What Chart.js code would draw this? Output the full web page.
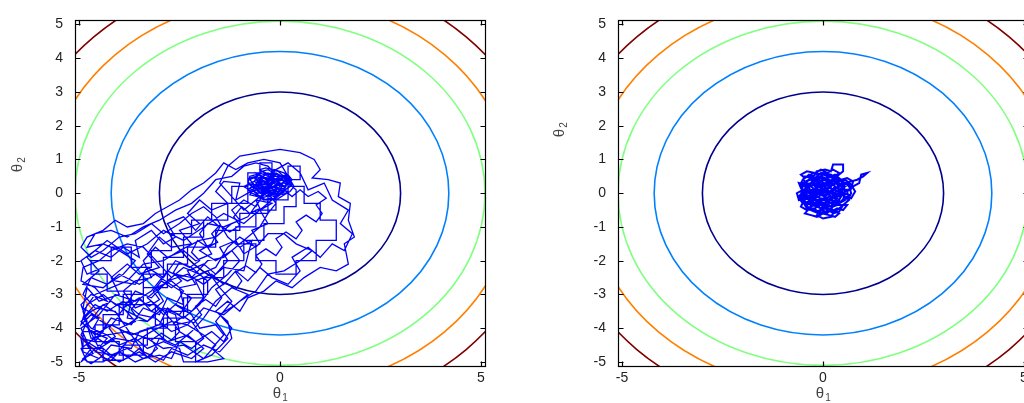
<!DOCTYPE html>
<html>
<head>
<meta charset="utf-8">
<script src="https://cdn.jsdelivr.net/npm/chart.js@4.4.0/dist/chart.umd.min.js"></script>
<style>
html, body { margin: 0; padding: 0; background: #fff; overflow: hidden; }
#wrap { position: relative; width: 1024px; height: 403px; overflow: hidden; }
#left { position: absolute; left: 0; top: 0; }
#right { position: absolute; left: 540px; top: 0; }
</style>
</head>
<body>
<div id="wrap">
  <canvas id="left" width="500" height="403"></canvas>
  <canvas id="right" width="500" height="403"></canvas>
</div>
<script>
// axes
const xTicks = [-5, 0, 5];
const yTicks = [-5, -4, -3, -2, -1, 0, 1, 2, 3, 4, 5];

// contour levels (radius of each ring) and their colours
const contourLevels = [3.0, 4.2, 5.1, 5.8, 6.55];
const contourColors = ['#00008f', '#0080ff', '#80ff80', '#ff8000', '#800000'];

// sampler path, left panel, in pieces
const leftWalkA = [
  [-0.3,0.2],[-0.15,0.35],[-0.4,0.45],[-0.55,0.3],[-0.35,0.1],[-0.1,0.25],[0.05,0.5],[-0.2,0.6],[-0.45,0.5],[-0.6,0.15],
  [-0.4,-0.05],[-0.2,0.1],[0.1,0.15],[0.2,0.35],[-0.05,0.45],[-0.3,0.35],[-0.5,0.55],[-0.75,0.4],[-0.6,0.2],[-0.35,0.3],
  [-0.25,0.05],[0.0,-0.05],[0.15,0.2],[-0.1,0.3],[-0.3,0.5],[-0.15,0.7],[0.1,0.6],[0.25,0.45],[0.05,0.3],[-0.2,0.15],
  [-0.45,0.2],[-0.7,0.05],[-0.9,0.2],[-0.65,0.35],[-0.4,0.25],[-0.2,0.4],[0.0,0.2],[-0.25,-0.1],[-0.5,0.0],[-0.35,0.2],
  [-0.8,0.0],[-1.1,-0.2],[-1.0,0.3],[-1.4,0.35],[-1.6,0.05],[-1.3,-0.3],[-1.7,-0.5],[-2.0,-0.2],[-2.3,-0.6],[-2.0,-0.9],
  [-2.5,-1.1],[-2.2,-1.5],[-2.7,-1.6],[-3.0,-1.3],[-3.3,-1.8],[-3.0,-2.2],[-3.5,-2.4],[-3.8,-2.1],[-4.2,-2.5],[-4.0,-3.0],
  [-4.5,-3.2],[-4.8,-2.8],[-4.9,-3.4],[-4.5,-3.7],[-4.7,-4.1],[-4.3,-4.3],[-4.6,-4.7],[-4.1,-4.8],[-3.8,-4.4],[-4.0,-4.0],
  [-3.6,-3.8],[-3.9,-3.4],[-3.5,-3.1],[-3.2,-3.5],[-2.9,-3.2],[-3.1,-2.8],[-2.7,-2.6],[-2.4,-2.9],[-2.6,-3.3],[-2.2,-3.5],
  [-1.9,-3.1],[-2.1,-2.6],[-1.7,-2.4],[-1.4,-2.7],[-1.1,-2.3],[-0.8,-2.6],[-0.5,-2.2],[-0.2,-2.5],[0.2,-2.7],[0.5,-2.3],
  [0.3,-1.9],[0.7,-1.6],[1.0,-1.9],[1.3,-1.5],[1.6,-1.7],[1.8,-1.2],[1.5,-0.9],[1.7,-0.5],[1.3,-0.2],[1.1,0.3],
  [0.7,0.1],[0.5,0.6],[0.2,0.9],[-0.1,0.7],[-0.3,0.4],[-0.6,0.6],[-0.4,0.1],[-0.1,0.0],[-0.25,0.25],
  [-0.8,0.25],[-0.8,-0.3],[-1.3,-0.3],[-1.3,-0.8],[-1.9,-0.8],[-1.9,-1.3],[-2.4,-1.3],[-2.4,-1.9],[-2.9,-1.9],[-2.9,-2.4],
  [-3.4,-2.4],[-3.4,-3.0],[-3.9,-3.0],[-3.9,-3.6],[-4.4,-3.6],[-4.4,-4.1],[-4.9,-4.1],[-4.9,-4.6],[-4.4,-4.6],[-4.4,-4.95],
  [-3.9,-4.95],[-3.9,-4.5],[-3.3,-4.5],[-3.3,-4.0],[-2.8,-4.0],[-2.8,-3.5],[-2.3,-3.5],[-2.3,-3.0],[-1.8,-3.0],[-1.8,-2.6],
  [-2.2,-2.2],[-2.6,-2.0],[-2.9,-2.5],[-3.3,-2.2],[-3.6,-2.7],[-4.1,-2.6],[-4.4,-2.2],[-4.8,-2.4],[-4.95,-2.0],[-4.6,-1.7],
  [-4.2,-1.9],[-3.9,-1.6],[-3.5,-1.9],[-3.6,-1.4],[-3.2,-1.1],[-2.9,-1.5],[-2.6,-1.3],[-2.8,-0.9],[-2.4,-0.7],[-2.1,-1.1],
  [-1.8,-0.7],[-1.5,-1.0],[-1.7,-1.5],[-2.0,-1.7],[-1.6,-2.0],[-1.2,-1.7],[-1.0,-2.0],[-1.3,-2.4],[-1.7,-2.8],[-2.0,-3.3],
  [-2.4,-3.7],[-2.8,-3.4],[-3.0,-3.9],[-3.5,-4.1],[-3.7,-4.6],[-4.2,-4.5],[-4.5,-4.9],[-4.9,-4.7],[-4.95,-4.3],[-4.6,-4.4],
  [-4.3,-3.9],[-4.7,-3.6],[-4.95,-3.9],[-4.8,-3.3],[-4.4,-3.0],[-4.1,-3.3],[-3.7,-3.2],[-3.8,-3.7],[-3.3,-3.8],[-3.0,-3.4],
  [-2.6,-3.6],[-2.5,-4.1],[-2.1,-4.4],[-1.7,-4.1],[-1.4,-4.4],[-1.2,-4.0],[-1.5,-3.6],[-1.1,-3.3],[-0.8,-3.0],[-1.2,-2.8],
  [-1.6,-3.2],[-1.9,-3.7],[-2.2,-4.1],[-2.6,-4.5],[-3.0,-4.3],[-3.2,-4.8],[-3.6,-5.0],[-4.0,-4.7],[-4.4,-5.0],[-4.8,-5.0],
  [-4.95,-4.6],[-4.5,-4.2],[-4.2,-3.7],[-3.7,-3.9],[-3.4,-3.4],[-3.0,-3.6],[-2.8,-3.1],[-2.4,-3.3],[-2.5,-2.8],[-2.1,-2.7],
  [-2.3,-2.3],[-1.9,-2.1],[-1.6,-2.4],[-1.3,-2.0],[-1.5,-1.6],[-1.1,-1.4],[-0.9,-1.8],[-0.5,-1.5],[-0.7,-1.1],[-0.3,-0.9],
  [-0.5,-0.5],[-0.2,-0.3],[-0.6,-0.2],[-0.9,-0.5],[-1.2,-0.1],[-1.5,0.3],[-1.3,0.8],[-1.0,1.1],[-0.5,1.2],[0.0,1.3],
  [0.5,1.2],[0.85,1.0],[1.0,0.7],[0.8,0.45],[1.2,0.4],[1.5,0.3],[1.45,-0.1],[1.75,-0.3],[1.7,-0.8],[1.85,-1.3],
  [1.6,-1.5],[1.7,-2.1],[1.4,-2.3],[1.0,-2.2],[0.6,-2.5],[0.3,-2.8],[-0.1,-2.6],[-0.4,-2.9],[-0.8,-3.1],[-1.0,-3.5],
  [-1.3,-3.2],[-1.6,-3.5],[-1.3,-3.8],[-1.2,-4.3],[-1.5,-4.7],[-1.9,-4.5],[-2.3,-4.8],[-2.7,-4.6],[-2.9,-4.95],[-3.4,-4.7],
  [-3.7,-4.2],[-4.1,-3.5],[-4.6,-3.4],[-4.9,-3.0],[-4.7,-2.5],[-4.3,-2.7],[-3.9,-2.4],[-3.6,-2.0],[-4.0,-1.7],[-4.4,-1.5],
  [-4.8,-1.6],[-4.6,-1.2],[-4.2,-1.1],[-3.8,-1.3],[-3.4,-1.0],[-3.0,-0.8],[-2.6,-0.5],[-2.2,-0.3],[-1.9,0.0],[-1.6,0.4],
  [-1.2,0.5],[-0.9,0.8],[-0.6,0.9],[-0.3,0.8],[-0.1,0.55],[-0.35,0.4],[-0.2,0.2],[0.05,0.1],[-0.15,-0.05],[-0.4,0.15],
  [-0.6,0.45],[-0.45,0.65],[-0.25,0.55],[-0.05,0.35],[0.15,0.5],[0.3,0.3],[0.1,0.05],[-0.1,-0.15],[-0.35,-0.2],[-0.55,-0.05],
  [-0.75,0.15],[-0.55,0.25],[-0.3,0.15],
  [-0.3,-0.6],[-1.0,-0.6],[-1.0,-1.1],[-1.6,-1.1],[-1.6,-1.6],[-2.3,-1.6],[-2.3,-2.1],[-2.8,-2.1],[-2.8,-2.8],[-3.4,-2.8],
  [-3.4,-3.3],[-4.0,-3.3],[-4.0,-3.9],[-4.6,-3.9],[-4.6,-4.4],[-4.0,-4.4],[-4.0,-4.8],[-3.4,-4.8],[-3.4,-4.3],[-2.9,-4.3],
  [-2.9,-3.7],[-2.4,-3.7],[-2.4,-3.1],[-1.9,-3.1],[-1.9,-2.5],[-1.4,-2.5],[-1.4,-2.0],[-0.9,-2.0],[-0.9,-1.4],[-0.4,-1.4],
  [-0.4,-0.9],[0.1,-0.9],[0.1,-0.4],[0.4,-0.4],[0.4,0.1],[0.1,0.4],[-0.2,0.3]
];

const leftWalkB = [
  [-0.4,0.0],[-0.6,-0.2],[-0.5,-0.45],[-0.75,-0.6],[-0.95,-0.4],[-1.15,-0.7],[-1.0,-0.95],[-1.25,-1.15],[-1.5,-0.95],[-1.7,-1.2],
  [-1.55,-1.45],[-1.8,-1.6],[-2.05,-1.4],[-2.2,-1.75],[-2.0,-2.0],[-2.25,-2.2],[-2.5,-2.05],[-2.65,-2.35],[-2.45,-2.6],[-2.7,-2.8],
  [-2.95,-2.6],[-3.15,-2.9],[-3.0,-3.15],[-3.25,-3.35],[-3.5,-3.15],[-3.7,-3.45],[-3.55,-3.7],[-3.8,-3.9],[-4.05,-3.7],[-4.25,-4.0],
  [-4.1,-4.25],[-4.35,-4.45],[-4.6,-4.25],[-4.8,-4.5],[-4.65,-4.75],[-4.9,-4.9],[-4.7,-5.05],[-4.45,-4.85],[-4.2,-4.95],[-4.0,-4.7],
  [-3.75,-4.85],[-3.5,-4.6],[-3.3,-4.85],[-3.05,-4.6],[-3.2,-4.35],[-2.95,-4.15],[-2.7,-4.35],[-2.5,-4.1],[-2.65,-3.85],[-2.4,-3.65],
  [-2.15,-3.85],[-1.95,-3.6],[-2.1,-3.35],[-1.85,-3.15],[-1.6,-3.35],[-1.45,-3.1],[-1.6,-2.85],[-1.35,-2.65],[-1.1,-2.85],[-0.95,-2.6],
  [-1.1,-2.35],[-0.85,-2.15],[-0.6,-2.35],[-0.45,-2.1],[-0.6,-1.85],[-0.35,-1.65],[-0.1,-1.85],[0.05,-1.6],[-0.1,-1.35],[0.15,-1.15],
  [0.4,-1.35],[0.55,-1.1],[0.4,-0.85],[0.65,-0.65],[0.9,-0.85],[1.05,-0.6],[0.9,-0.35],[1.15,-0.15],[0.95,0.05],[0.7,-0.1],
  [0.5,0.1],[0.3,-0.1],[0.1,0.1],[-0.1,-0.1],[-0.3,-0.3]
];

const leftWalkC = [
  [-0.9,-0.9],[-1.4,-0.6],[-1.9,-1.0],[-2.4,-1.4],[-2.9,-1.1],[-3.3,-1.5],[-3.8,-1.8],[-4.3,-1.4],[-4.8,-1.9],[-4.5,-2.3],
  [-4.9,-2.7],[-4.4,-2.8],[-4.0,-2.4],[-3.5,-2.7],[-3.1,-2.4],[-2.6,-2.8],[-2.2,-3.1],[-2.5,-3.6],[-2.9,-3.4],[-3.3,-3.8],
  [-3.8,-3.5],[-4.2,-3.2],[-4.7,-3.5],[-4.95,-3.8],[-4.6,-4.2],[-4.2,-3.9],[-3.7,-4.2],[-3.2,-4.0],[-2.8,-4.4],[-2.3,-4.2],
  [-1.9,-4.6],[-2.2,-4.9],[-2.7,-4.7],[-3.1,-5.0],[-3.5,-4.7],[-4.0,-5.0],[-4.4,-4.7],[-4.8,-4.4],[-4.95,-4.0],[-4.5,-3.6],
  [-4.1,-3.0],[-3.6,-3.2],[-3.2,-2.9],[-2.8,-2.3],[-2.3,-2.6],[-1.8,-2.3],[-1.5,-2.8],[-1.2,-3.2],[-1.6,-3.8],[-1.3,-4.3],
  [-1.7,-4.8],[-2.1,-5.0],
  [-2.1,-4.4],[-2.6,-4.4],[-2.6,-3.9],[-3.1,-3.9],[-3.1,-3.3],[-3.7,-3.3],[-3.7,-2.9],[-4.3,-2.9],[-4.3,-2.4],[-4.7,-2.4],
  [-4.7,-2.0],[-4.2,-2.0],[-4.2,-1.6],[-3.7,-1.6],[-3.7,-2.2],[-3.2,-2.2],[-3.2,-1.7],[-2.7,-1.7],[-2.7,-1.2],[-2.2,-1.2],
  [-2.2,-0.8],[-1.7,-0.8],[-1.7,-0.3],[-1.2,-0.3],[-1.2,0.2],[-0.8,0.2],[-0.8,0.6],[-0.5,0.6],[-0.5,0.9],[-0.2,0.9],
  [-0.2,0.5],[0.2,0.5],[0.2,0.8],[0.5,0.8],[0.5,0.4],[0.2,0.4],[0.2,0.0],[-0.1,0.0],[-0.1,-0.5],[-0.6,-0.5],
  [-0.6,-1.0],[-1.1,-1.0],[-1.1,-1.5],[-0.6,-1.5],[-0.6,-2.0],[-0.1,-2.0],[-0.1,-2.4],[0.4,-2.4],[0.4,-2.0],[0.9,-2.0],
  [0.9,-1.4],[1.4,-1.4],[1.4,-0.8],[1.0,-0.8],[1.0,-0.3],[0.6,-0.3],[0.6,0.2],[0.2,0.2],[0.2,-0.2],[-0.3,-0.2],
  [-0.3,0.3]
];

const leftWalkD = [
  [-0.2,0.45],[-0.35,0.55],[-0.5,0.45],[-0.45,0.3],[-0.6,0.25],[-0.5,0.1],[-0.35,0.0],[-0.2,0.1],[-0.05,0.05],[0.05,0.2],
  [-0.05,0.35],[0.1,0.4],[0.2,0.25],[0.3,0.4],[0.2,0.55],[0.0,0.5],[-0.15,0.6],[-0.3,0.7],[-0.45,0.65],[-0.6,0.55],
  [-0.75,0.5],[-0.8,0.3],[-0.65,0.15],[-0.75,-0.05],[-0.55,-0.1],[-0.4,-0.2],[-0.25,-0.15],[-0.1,-0.2],[0.1,-0.05],[0.25,0.05],
  [0.35,0.2],[0.0,0.9],[-0.4,1.0],[-0.8,0.9],[-1.1,0.7],[-1.4,0.9],[-1.6,0.6],[-1.9,0.3],[-2.2,0.1],[-2.5,-0.2],
  [-2.8,-0.4],[-3.1,-0.6],[-3.4,-0.9],[-3.8,-1.0],[-4.1,-0.8],[-4.4,-1.1],[-4.8,-1.3],[-4.95,-1.6],[-4.7,-1.9],[-4.4,-1.7],
  [-4.0,-1.3],[-3.6,-1.2],[-3.2,-0.9],[-2.9,-1.2],[-2.5,-0.9],[-2.2,-0.6],[-1.9,-0.4],[-1.6,-0.7],[-1.3,-1.3],[-1.0,-1.6],
  [-0.7,-1.4],[-0.9,-2.3],[-1.4,-2.2],[-1.9,-2.7],[-2.3,-2.4],[-2.8,-2.6],[-3.2,-3.1],[-3.6,-2.9],[-4.0,-3.6],[-4.4,-3.3],
  [-4.8,-3.9],[-4.5,-4.6],[-4.1,-4.3],[-3.6,-4.4],[-3.2,-4.1],[-2.7,-3.8],[-2.3,-3.9],[-1.9,-4.2],[-1.6,-4.5],[-1.9,-4.9],
  [-2.4,-4.5],[-2.9,-4.6],[-3.3,-4.3],[-3.8,-4.1],[-4.3,-4.2],[-4.7,-4.3],[-4.9,-3.5],[-4.6,-3.0],[-4.2,-2.8],[-3.8,-2.6],
  [-3.4,-2.1],[-2.9,-2.0],[-2.5,-1.7],[-2.0,-1.4],[-1.6,-1.3],[-1.2,-0.9],[-0.8,-0.7],[-0.5,-0.2],[-0.3,0.1]
];

const leftWalkE = [
  [-0.4,0.2],[-0.5,0.15],[-0.55,0.25],[-0.45,0.35],[-0.35,0.3],[-0.25,0.4],[-0.35,0.45],[-0.45,0.5],[-0.6,0.4],[-0.7,0.3],
  [-0.65,0.2],[-0.55,0.05],[-0.45,0.0],[-0.3,0.05],[-0.2,0.0],[-0.1,0.1],[-0.15,0.2],[-0.05,0.3],[0.05,0.25],[0.1,0.35],
  [0.0,0.45],[-0.1,0.5],[-0.2,0.55],[-0.3,0.6],[-0.4,0.55],[-0.5,0.6],[-0.6,0.5],[-0.75,0.45],[-0.8,0.35],[-0.7,0.2],
  [-0.8,0.1],[-0.7,0.0],[-0.6,-0.05],[-0.5,-0.15],[-0.35,-0.1],[-0.25,-0.05],[-0.15,-0.1],[0.0,0.0],[0.1,0.1],[0.2,0.15],
  [0.3,0.25],[0.25,0.35],[0.15,0.45],[0.05,0.55],[-0.05,0.65],[-0.2,0.7],[-0.35,0.75],[-0.5,0.7],[-0.4,0.6],[-0.3,0.5],
  [-0.2,0.35],[-0.3,0.25],[-0.4,0.35],[-0.5,0.3],[-0.45,0.2],[-0.35,0.15],[-0.25,0.2],[-0.15,0.3],[-0.05,0.15],[0.05,0.05],
  [0.15,0.25],[0.05,0.4],[-0.1,0.4],[-0.25,0.3],[-0.6,-0.4],[-0.9,-0.2],[-1.2,-0.5],[-1.0,-0.8],[-1.4,-1.0],[-1.8,-0.9],
  [-2.0,-1.2],[-1.7,-1.8],[-2.1,-2.0],[-2.4,-1.7],[-2.8,-1.9],[-3.1,-1.6],[-3.4,-2.0],[-3.2,-2.5],[-3.6,-2.6],[-3.9,-2.9],
  [-3.6,-3.4],[-3.2,-3.2],[-2.9,-3.6],[-2.6,-3.3],[-2.2,-3.6],[-2.0,-4.0],[-1.6,-3.9],[-1.4,-4.2],[-1.7,-4.6],[-1.4,-4.9],
  [-1.8,-5.0],[-2.4,-5.0],[-2.5,-4.6],[-2.9,-4.4],[-3.3,-4.6],[-3.6,-4.3],[-4.0,-4.5],[-4.3,-4.2],[-4.7,-4.0],[-4.9,-3.7],
  [-4.6,-3.3],[-4.3,-3.5],[-3.9,-3.2],[-3.5,-3.6],[-3.1,-3.7],[-2.7,-4.1],[-2.3,-3.9],[-1.9,-3.4],[-1.4,-3.6],[-1.0,-3.2],
  [-0.6,-2.9],[-0.3,-2.4],[0.1,-2.3],[0.5,-2.0],[0.8,-1.7],[0.4,-1.5],[0.1,-1.2],[-0.3,-1.2],[-0.6,-1.6],[-1.0,-1.3],
  [-1.3,-1.6],[-1.6,-2.2],[-2.0,-2.4],[-2.4,-2.2],[-2.7,-2.5],[-3.0,-2.1],[-3.4,-1.6],[-3.8,-1.5],[-4.2,-1.7],[-4.5,-2.0],
  [-4.9,-2.2],[-4.95,-2.6],[-4.6,-2.8],[-4.3,-3.2],[-4.7,-3.0],[-4.95,-3.3],[-4.8,-3.8],[-4.95,-4.2],[-4.7,-4.6],[-4.95,-5.0],
  [-4.5,-4.5],[-4.2,-4.8],[-3.8,-4.6],[-3.4,-4.9],[-3.0,-4.8],[-2.7,-4.9],[-2.5,-4.4],[-2.2,-4.6],[-1.9,-4.3],[-2.2,-3.8],
  [-2.6,-3.9],[-2.9,-3.5],[-3.3,-3.1],[-3.0,-2.8],[-2.6,-2.4],[-2.2,-2.5],[-1.8,-2.0],[-1.4,-1.9],[-1.1,-1.6],[-0.8,-1.3],
  [-0.5,-1.0],[-0.3,-0.6],[-0.1,-0.3],[-0.3,0.0]
];

const leftWalkF = [
  [-0.45,0.1],[-0.6,0.3],[-0.5,0.4],[-0.35,0.35],[-0.2,0.25],[-0.05,0.4],[0.1,0.5],[0.2,0.4],[0.15,0.3],[0.0,0.3],
  [-0.15,0.45],[-0.3,0.4],[-0.45,0.45],[-0.55,0.35],[-0.65,0.45],[-0.55,0.55],[-0.4,0.45],[-0.25,0.5],[-0.1,0.6],[0.05,0.5],
  [0.15,0.4],[0.25,0.3],[0.1,0.2],[-0.05,0.25],[-0.2,0.15],[-0.4,0.1],[-0.55,0.2],[-0.7,0.1],[-0.55,0.0],[-0.4,0.05],
  [-0.25,0.1],[-0.1,0.05],[0.05,0.1],[0.2,0.05],[0.1,-0.05],[-0.05,0.0],[-0.2,-0.05],[-0.35,0.05],[-0.3,0.2]
];

// sampler path, right panel
const rightWalkA = [
  [0,0.1],[0.1,0.25],[-0.05,0.35],[-0.2,0.2],[-0.1,0.0],[0.05,-0.1],[0.2,0.05],[0.3,0.2],[0.15,0.4],[-0.05,0.5],
  [-0.25,0.4],[-0.35,0.2],[-0.3,-0.05],[-0.15,-0.2],[0.05,-0.3],[0.25,-0.15],[0.4,0.05],[0.35,0.3],[0.2,0.5],[0.0,0.6],
  [-0.2,0.55],[-0.4,0.35],[-0.45,0.1],[-0.4,-0.15],[-0.25,-0.35],[-0.05,-0.45],[0.15,-0.4],[0.35,-0.3],[0.45,-0.1],[0.5,0.15],
  [0.45,0.4],[0.3,0.55],[0.1,0.45],[-0.1,0.3],[-0.3,0.45],[-0.45,0.5],[-0.55,0.3],[-0.5,0.05],[-0.6,-0.1],[-0.45,-0.3],
  [-0.3,-0.5],[-0.1,-0.6],[0.1,-0.55],[0.3,-0.5],[0.2,-0.7],[0.0,-0.75],[-0.15,-0.65],[-0.05,-0.45],[0.1,-0.25],[0.0,-0.05],
  [-0.2,0.05],[-0.1,0.2],[0.1,0.1],[0.25,-0.05],[0.15,-0.2],[-0.05,-0.15],[-0.2,-0.3],[-0.35,-0.2],[-0.25,0.0],[-0.15,0.15],
  [0.05,0.3],[0.25,0.35],[0.4,0.25],[0.55,0.3],[0.7,0.35],[0.85,0.4],[1.0,0.5],[1.1,0.6],[0.95,0.55],[0.9,0.3],
  [0.75,0.2],[0.6,0.05],[0.65,-0.2],[0.5,-0.35],[0.4,-0.55],[0.25,-0.6],[0.1,-0.4],[-0.05,-0.3],[-0.2,-0.45],[-0.4,-0.45],
  [-0.5,-0.25],[-0.35,-0.1],[-0.15,-0.05],[0.05,0.05],[0.2,0.2],[0.1,0.35],[-0.1,0.45],[-0.15,0.65],[0.05,0.7],[0.2,0.65],
  [0.25,0.85],[0.5,0.85],[0.5,0.65],[0.35,0.5],[0.2,0.35],[0.0,0.2],[-0.2,0.3],[-0.35,0.55],[-0.5,0.4],[-0.35,0.25],
  [-0.2,0.1],[-0.4,0.0],[-0.55,-0.15],[-0.4,-0.35],[-0.2,-0.2],[0.0,-0.2],[0.2,-0.3],[0.35,-0.15],[0.3,0.1],[0.1,0.0],
  [-0.05,0.1]
];

const rightWalkB = [
  [-0.2,0.0],[-0.35,-0.1],[-0.5,0.0],[-0.6,-0.15],[-0.5,-0.3],[-0.35,-0.25],[-0.2,-0.35],[-0.05,-0.25],[0.1,-0.35],[0.25,-0.25],
  [0.4,-0.3],[0.55,-0.2],[0.65,-0.05],[0.5,0.0],[0.35,-0.05],[0.2,0.05],[0.05,-0.05],[-0.1,0.05],[-0.25,0.1],[-0.4,0.05],
  [-0.55,0.15],[-0.6,0.3],[-0.45,0.25],[-0.3,0.3],[-0.15,0.2],[0.0,0.3],[0.15,0.2],[0.3,0.3],[0.45,0.2],[0.6,0.3],
  [0.7,0.15],[0.75,0.35],[0.6,0.45],[0.45,0.4],[0.3,0.45],[0.15,0.35],[0.0,0.45],[-0.15,0.4],[-0.3,0.55],[-0.45,0.45],
  [-0.55,0.55],[-0.4,0.65],[-0.2,0.6],[-0.05,0.7],[0.1,0.6],[0.25,0.7],[0.4,0.6],[0.3,0.5],[0.15,0.5],[0.0,0.55],
  [-0.1,0.4],[-0.25,0.35],[-0.4,0.2],[-0.3,0.05],[-0.15,-0.1],[0.0,-0.2],[0.15,-0.1],[0.3,-0.15],[0.45,-0.05],[0.6,0.1],
  [0.45,0.1],[0.3,0.15],[0.15,0.05],[0.0,0.1],[-0.15,-0.05],[-0.3,-0.2],[-0.45,-0.15],[-0.55,-0.4],[-0.4,-0.5],[-0.25,-0.45],
  [-0.1,-0.55],[0.05,-0.45],[0.2,-0.55],[0.35,-0.45],[0.5,-0.5],[0.6,-0.35],[0.45,-0.35],[0.3,-0.35],[0.15,-0.25],[0.0,-0.35],
  [-0.15,-0.3],[-0.3,-0.4],[-0.45,-0.6],[-0.3,-0.65],[-0.15,-0.7],[0.0,-0.6],[0.15,-0.65],[0.3,-0.7],[0.4,-0.6],[0.25,-0.5],
  [0.1,-0.45],[-0.05,-0.35],[-0.2,-0.2],[-0.35,0.0],[-0.5,0.1],[-0.65,0.0],[-0.6,-0.2],[-0.45,-0.1],[-0.25,-0.05],[-0.05,0.0],
  [0.1,0.15],[0.25,0.25],[0.4,0.35],[0.55,0.4],[0.7,0.25],[0.8,0.05],[0.7,-0.15],[0.55,-0.1],[0.4,0.0],[0.2,-0.1],
  [0.05,0.05]
];

const rightWalkC = [
  [-0.1,-0.1],[-0.25,-0.15],[-0.4,-0.05],[-0.45,0.1],[-0.35,0.2],[-0.2,0.25],[-0.05,0.2],[0.1,0.25],[0.25,0.1],[0.4,0.05],
  [0.45,-0.1],[0.35,-0.25],[0.2,-0.2],[0.05,-0.15],[-0.1,-0.25],[-0.25,-0.3],[-0.35,-0.45],[-0.2,-0.55],[-0.05,-0.5],[0.1,-0.6],
  [0.25,-0.4],[0.35,-0.35],[0.5,-0.2],[0.55,0.05],[0.5,0.25],[0.35,0.15],[0.2,0.3],[0.05,0.4],[-0.1,0.35],[-0.25,0.45],
  [-0.4,0.35],[-0.5,0.2],[-0.55,0.05],[-0.45,-0.2],[-0.3,-0.05],[-0.15,0.05],[0.0,0.15],[0.15,0.0],[0.3,-0.05],[0.2,0.15],
  [0.05,0.15],[-0.1,0.1],[-0.05,-0.05]
];

const rightWalkD = [
  [-0.3,0.1],[-0.2,-0.1],[-0.35,-0.3],[-0.15,-0.4],[0.0,-0.3],[0.2,-0.4],[0.3,-0.2],[0.45,-0.25],[0.55,-0.1],[0.4,0.1],
  [0.55,0.2],[0.4,0.3],[0.25,0.45],[0.1,0.5],[-0.05,0.6],[-0.2,0.45],[-0.35,0.4],[-0.5,0.3],[-0.4,0.1],[-0.55,-0.05],
  [-0.45,-0.25],[-0.3,-0.35],[-0.1,-0.4],[0.05,-0.55],[0.2,-0.45],[0.3,-0.55],[0.45,-0.4],[0.6,-0.25],[0.7,0.0],[0.65,0.2],
  [0.5,0.35],[0.35,0.4],[0.2,0.55],[0.05,0.6],[-0.1,0.55],[-0.25,0.6],[-0.35,0.5],[-0.25,0.3],[-0.1,0.2],[0.05,0.0]
];

const leftWalk = leftWalkA.concat(leftWalkB, leftWalkC, leftWalkD, leftWalkE, leftWalkF);
const rightWalk = rightWalkA.concat(rightWalkB, rightWalkC, rightWalkD);

const tickFont = { family: 'Liberation Sans', size: 14 };
const tickColor = '#222';

// contour rings under the path
const contourPlugin = {
  id: 'contours',
  beforeDatasetsDraw(chart) {
    const { ctx, chartArea: a, scales: { x, y } } = chart;
    const cx = x.getPixelForValue(0), cy = y.getPixelForValue(0);
    ctx.save();
    ctx.beginPath();
    ctx.rect(a.left, a.top, a.right - a.left, a.bottom - a.top);
    ctx.clip();
    ctx.lineWidth = 1.6;
    contourLevels.forEach((r, i) => {
      ctx.beginPath();
      ctx.ellipse(cx, cy, Math.abs(x.getPixelForValue(r) - cx), Math.abs(y.getPixelForValue(r) - cy), 0, 0, Math.PI * 2);
      ctx.strokeStyle = contourColors[i];
      ctx.stroke();
    });
    ctx.restore();
  }
};

// box with inward ticks on all sides, plus theta labels
const framePlugin = {
  id: 'frame',
  afterDraw(chart, args, opts) {
    const { ctx, chartArea: a, scales: { x, y } } = chart;
    const L = Math.round(a.left) + 0.5, R = Math.round(a.right) + 0.5;
    const T = Math.round(a.top) + 0.5, B = Math.round(a.bottom) + 0.5;
    ctx.save();
    ctx.strokeStyle = '#000';
    ctx.lineWidth = 1.2;
    ctx.strokeRect(L, T, R - L, B - T);
    ctx.beginPath();
    xTicks.forEach(v => {
      const px = Math.round(x.getPixelForValue(v)) + 0.5;
      ctx.moveTo(px, B); ctx.lineTo(px, B - 5);
      ctx.moveTo(px, T); ctx.lineTo(px, T + 5);
    });
    yTicks.forEach(v => {
      const py = Math.round(y.getPixelForValue(v)) + 0.5;
      ctx.moveTo(L, py); ctx.lineTo(L + 5, py);
      ctx.moveTo(R, py); ctx.lineTo(R - 5, py);
    });
    ctx.stroke();

    // axis symbols
    ctx.fillStyle = '#444';
    ctx.textBaseline = 'middle';
    ctx.textAlign = 'center';
    const bx = x.getPixelForValue(0);
    ctx.font = '15px "Liberation Sans"';
    ctx.fillText('θ', bx - 3, 394);
    ctx.font = '10px "Liberation Sans"';
    ctx.fillText('1', bx + 5, 398);

    ctx.translate(opts.yTitleX, opts.yTitleY);
    ctx.rotate(-Math.PI / 2);
    ctx.font = '15px "Liberation Sans"';
    ctx.fillText('θ', -3, 0);
    ctx.font = '10px "Liberation Sans"';
    ctx.fillText('2', 5, 4);
    ctx.restore();
  }
};

function makeChart(id, walk, lineWidth, yAxisWidth, rightPad, yTitleX, yTitleY) {
  return new Chart(document.getElementById(id), {
    type: 'scatter',
    data: {
      datasets: [{
        data: walk.map(p => ({ x: p[0], y: p[1] })),
        showLine: true,
        borderColor: '#0000ff',
        borderWidth: lineWidth,
        pointRadius: 0,
        tension: 0
      }]
    },
    options: {
      responsive: false,
      animation: false,
      devicePixelRatio: 1,
      layout: { padding: { top: 15, right: rightPad, left: 0, bottom: 0 } },
      plugins: {
        legend: { display: false },
        tooltip: { enabled: false },
        frame: { yTitleX: yTitleX, yTitleY: yTitleY }
      },
      scales: {
        x: {
          type: 'linear',
          min: -5.1,
          max: 5.1,
          afterBuildTicks: s => { s.ticks = xTicks.map(v => ({ value: v })); },
          afterFit: s => { s.height = 37; },
          grid: { display: false, drawTicks: false },
          border: { display: false },
          ticks: { font: tickFont, color: tickColor, padding: 4, maxRotation: 0, callback: v => String(v) }
        },
        y: {
          type: 'linear',
          min: -5.12,
          max: 5.12,
          afterBuildTicks: s => { s.ticks = yTicks.map(v => ({ value: v })); },
          afterFit: s => { s.width = yAxisWidth; },
          grid: { display: false, drawTicks: false },
          border: { display: false },
          ticks: { font: tickFont, color: tickColor, padding: 12, callback: v => String(v) }
        }
      }
    },
    plugins: [contourPlugin, framePlugin]
  });
}

makeChart('left', leftWalk, 1.3, 75, 15, 18, 165);
makeChart('right', rightWalk, 2.0, 78, 12, 20, 130);
</script>
</body>
</html>
